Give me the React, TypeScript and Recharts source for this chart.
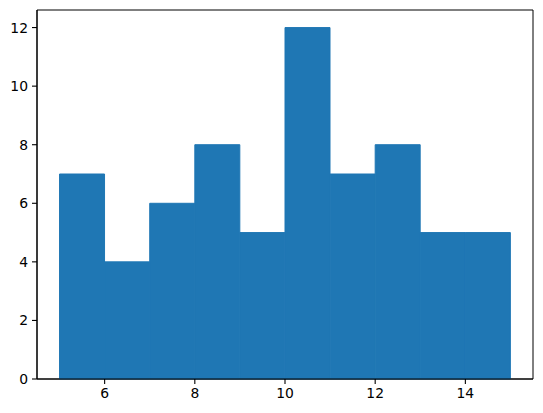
import { BarChart, Bar, XAxis, YAxis, ReferenceArea } from 'recharts';

const binStarts = [5, 6, 7, 8, 9, 10, 11, 12, 13, 14];
const counts = [7, 4, 6, 8, 5, 12, 7, 8, 5, 5];
const xTicks = [6, 8, 10, 12, 14];
const yTicks = [0, 2, 4, 6, 8, 10, 12];

const data = binStarts.map((s, i) => ({ mid: s + 0.5, count: counts[i] }));

const tickStyle = { fill: '#000', fontSize: 13.9, fontFamily: 'DejaVu Sans' };
const lineStyle = { stroke: '#000', strokeWidth: 1.1 };

function App() {
  return (
    <div style={{ position: 'absolute', left: 0, top: 0 }}>
      <BarChart
        width={543}
        height={413}
        data={data}
        margin={{ top: 10, right: 10, left: 0, bottom: 0 }}
        barCategoryGap={0}
        barGap={0}
      >
        <XAxis
          dataKey="mid"
          type="number"
          domain={[4.5, 15.5]}
          ticks={xTicks}
          height={34}
          tickSize={5}
          tickMargin={4}
          tick={tickStyle}
          axisLine={lineStyle}
          tickLine={lineStyle}
        />
        <YAxis
          type="number"
          domain={[0, 12.6]}
          ticks={yTicks}
          width={37}
          tickSize={5}
          tickMargin={4}
          tick={tickStyle}
          axisLine={lineStyle}
          tickLine={lineStyle}
        />
        <Bar
          dataKey="count"
          fill="#1f77b4"
          stroke="#1f77b4"
          strokeWidth={1}
          isAnimationActive={false}
        />
        {/* frame on all four sides, like matplotlib spines */}
        <ReferenceArea
          x1={4.5}
          x2={15.5}
          y1={0}
          y2={12.6}
          fill="none"
          fillOpacity={0}
          stroke="#000"
          strokeWidth={1}
          strokeOpacity={1}
          ifOverflow="visible"
        />
      </BarChart>
    </div>
  );
}

export default App;
